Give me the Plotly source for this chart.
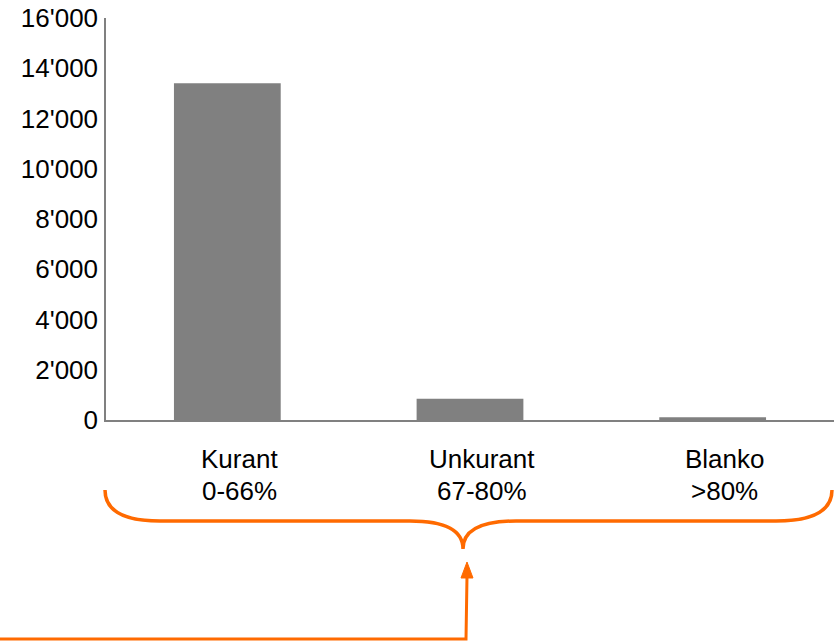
import plotly.graph_objects as go

categories = ["Kurant", "Unkurant", "Blanko"]
ranges = ["0-66%", "67-80%", ">80%"]
values = [13400, 850, 110]
y_ticks = [0, 2000, 4000, 6000, 8000, 10000, 12000, 14000, 16000]

W, H = 834, 642
L, R, T, B = 106, 0, 18, 222
ORANGE = "#FF6A00"
FS = 26

def px(x):
    return (x - L) / (W - L - R)

def py(y):
    return (H - B - y) / (H - T - B)

xs = list(range(len(categories)))

fig = go.Figure(go.Bar(
    x=xs,
    y=values,
    width=0.44,
    marker=dict(color="#808080", line=dict(width=0)),
))

def P(x, y):
    return f"{px(x):.5f},{py(y):.5f}"

brace = (
    f"M{P(105,490)} Q{P(105,521)} {P(160,521)} L{P(410,521)} "
    f"Q{P(463,521)} {P(463,549)} Q{P(463,521)} {P(516,521)} "
    f"L{P(776,521)} Q{P(832,521)} {P(832,490)}"
)
arrow_line = f"M{P(0,639)} L{P(466,639)} L{P(467,576)}"
arrow_head = f"M{P(461,578)} L{P(467,562)} L{P(473,578)} Z"

annotations = []
for i, (c, r) in enumerate(zip(categories, ranges)):
    annotations.append(dict(x=i, y=py(459), xref="x", yref="paper", text=c,
                            showarrow=False, xshift=12, xanchor="center",
                            yanchor="middle", font=dict(size=FS)))
    annotations.append(dict(x=i, y=py(491), xref="x", yref="paper", text=r,
                            showarrow=False, xshift=12, xanchor="center",
                            yanchor="middle", font=dict(size=FS)))

fig.update_layout(
    width=W, height=H,
    margin=dict(l=L, r=R, t=T, b=B, pad=0),
    paper_bgcolor="white", plot_bgcolor="white",
    separators=".'",
    showlegend=False,
    font=dict(family="Liberation Sans, Arial, sans-serif", size=FS, color="black"),
    xaxis=dict(
        range=[-0.5, 2.5],
        showticklabels=False,
        showline=True, linecolor="#808080", linewidth=1.5,
        showgrid=False, zeroline=False, ticks="",
    ),
    yaxis=dict(
        range=[0, 16000],
        tickvals=y_ticks,
        tickformat=",d",
        showline=True, linecolor="#808080", linewidth=1.5,
        showgrid=False, zeroline=False, ticks="",
        ticklabelstandoff=1,
        tickfont=dict(size=FS),
    ),
    annotations=annotations,
    shapes=[
        dict(type="path", xref="paper", yref="paper", path=brace,
             line=dict(color=ORANGE, width=3.5)),
        dict(type="path", xref="paper", yref="paper", path=arrow_line,
             line=dict(color=ORANGE, width=3)),
        dict(type="path", xref="paper", yref="paper", path=arrow_head,
             line=dict(color=ORANGE, width=1), fillcolor=ORANGE),
    ],
)

fig.write_html("out.html")
